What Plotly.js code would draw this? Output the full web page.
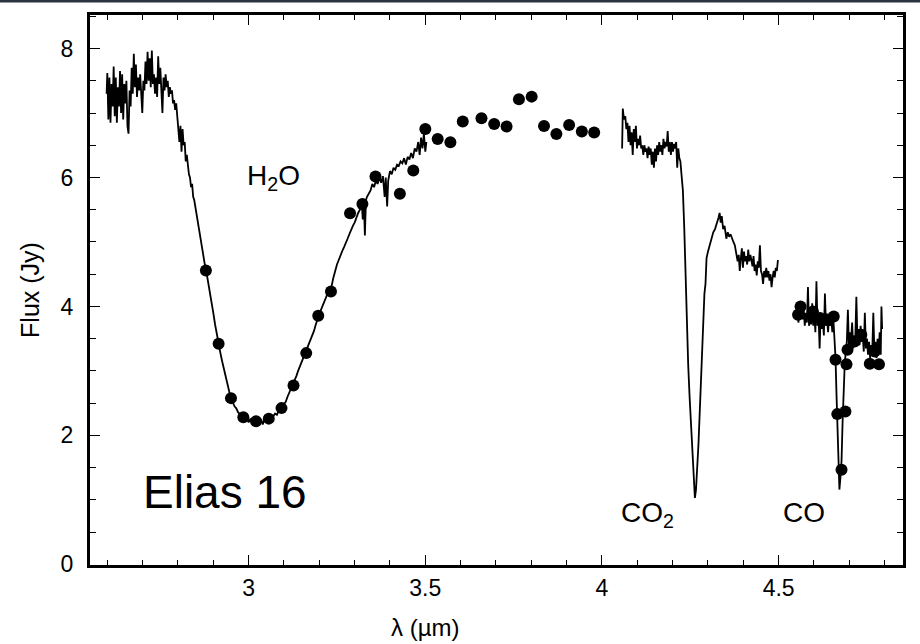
<!DOCTYPE html>
<html>
<head>
<meta charset="utf-8">
<script src="https://cdn.plot.ly/plotly-3.0.1.min.js"></script>
<style>html,body{margin:0;padding:0;background:#fff;}#chart{width:920px;height:644px;}</style>
</head>
<body>
<div id="chart"></div>
<script>
// Spectrum segment 1 (H2O band)
const lam1 = [2.598,2.600,2.603,2.606,2.609,2.612,2.615,2.618,2.621,2.624,2.627,2.630,2.633,2.636,2.639,2.642,2.645,2.648,2.651,2.654,2.657,2.660,2.663,2.666,2.669,2.672,2.675,2.678,2.681,2.684,2.687,2.690,2.693,2.696,2.699,2.702,2.705,2.708,2.711,2.714,2.717,2.720,2.723,2.726,2.729,2.732,2.735,2.738,2.741,2.744,2.747,2.750,2.753,2.756,2.759,2.762,2.765,2.768,2.771,2.774,2.777,2.780,2.783,2.786,2.789,2.792,2.795,2.798,2.801,2.804,2.807,2.810,2.813,2.816,2.819,2.822,2.825,2.828,2.831,2.834,2.837,2.840,2.843,2.846,2.849,2.852,2.856,2.860,2.864,2.868,2.872,2.876,2.880,2.885,2.890,2.895,2.900,2.905,2.910,2.915,2.920,2.925,2.930,2.935,2.940,2.945,2.950,2.955,2.960,2.965,2.970,2.975,2.980,2.985,2.990,2.995,3.000,3.005,3.010,3.015,3.020,3.025,3.030,3.035,3.040,3.045,3.050,3.055,3.060,3.065,3.070,3.075,3.080,3.085,3.090,3.095,3.100,3.105,3.110,3.115,3.120,3.125,3.130,3.135,3.140,3.145,3.150,3.155,3.160,3.165,3.170,3.175,3.180,3.185,3.190,3.195,3.200,3.205,3.210,3.215,3.220,3.225,3.230,3.235,3.240,3.245,3.250,3.255,3.260,3.265,3.270,3.275,3.280,3.285,3.290,3.295,3.300,3.305,3.310,3.315,3.320,3.323,3.326,3.329,3.332,3.335,3.340,3.345,3.350,3.355,3.360,3.365,3.370,3.375,3.380,3.385,3.388,3.392,3.395,3.400,3.405,3.410,3.415,3.420,3.425,3.430,3.435,3.440,3.445,3.450,3.455,3.460,3.465,3.470,3.475,3.480,3.484,3.488,3.492,3.496,3.500,3.503];
const flux1 = [7.30,7.62,6.90,7.55,6.85,7.45,7.10,7.72,6.95,7.55,6.85,7.40,7.10,7.65,7.00,7.60,6.90,7.45,7.15,7.50,6.80,6.68,7.35,7.10,7.70,7.30,7.92,7.40,7.75,7.25,7.55,7.35,7.60,7.20,7.00,7.50,7.35,7.80,7.45,7.95,7.50,7.85,7.40,7.97,7.45,7.60,7.30,7.55,7.25,7.88,7.45,7.70,7.35,7.00,7.55,7.35,7.60,7.40,7.50,7.25,7.40,7.30,7.35,7.15,7.20,7.05,7.15,6.95,6.80,6.55,6.80,6.40,6.75,6.50,6.55,6.25,6.35,6.15,6.05,6.00,5.85,5.90,5.70,5.65,5.55,5.40,5.30,5.15,5.00,4.90,4.78,4.65,4.55,4.40,4.22,4.05,3.90,3.72,3.55,3.42,3.28,3.15,3.02,2.90,2.80,2.68,2.58,2.52,2.45,2.42,2.36,2.33,2.28,2.30,2.24,2.27,2.20,2.26,2.18,2.24,2.15,2.28,2.20,2.25,2.17,2.26,2.22,2.30,2.24,2.28,2.30,2.34,2.32,2.38,2.40,2.45,2.48,2.52,2.60,2.66,2.72,2.78,2.85,2.92,3.00,3.07,3.12,3.20,3.26,3.32,3.40,3.48,3.56,3.62,3.72,3.82,3.88,3.95,4.02,4.10,4.18,4.22,4.25,4.32,4.45,4.56,4.65,4.72,4.80,4.86,4.92,5.00,5.05,5.12,5.20,5.25,5.30,5.38,5.45,5.50,5.60,5.35,5.62,5.10,5.65,5.70,5.75,5.80,5.90,5.85,5.95,5.90,6.00,5.92,6.02,5.70,6.00,5.55,5.95,6.10,6.05,6.15,6.12,6.20,6.18,6.25,6.22,6.30,6.20,6.32,6.28,6.38,6.30,6.45,6.40,6.55,6.35,6.62,6.45,6.68,6.40,6.55];

// Spectrum segment 2 (CO2 band)
const lam2 = [4.057,4.059,4.062,4.066,4.069,4.072,4.075,4.078,4.081,4.084,4.087,4.090,4.093,4.096,4.099,4.102,4.105,4.108,4.111,4.114,4.117,4.120,4.123,4.126,4.129,4.132,4.135,4.138,4.141,4.144,4.147,4.150,4.153,4.156,4.159,4.162,4.165,4.168,4.171,4.174,4.177,4.180,4.183,4.186,4.189,4.192,4.195,4.198,4.201,4.204,4.207,4.210,4.213,4.216,4.219,4.222,4.225,4.229,4.233,4.237,4.240,4.244,4.248,4.253,4.258,4.263,4.266,4.269,4.273,4.277,4.281,4.286,4.290,4.293,4.296,4.300,4.305,4.310,4.315,4.320,4.325,4.330,4.333,4.336,4.339,4.343,4.347,4.352,4.356,4.360,4.364,4.368,4.372,4.376,4.380,4.384,4.387,4.390,4.393,4.396,4.399,4.402,4.405,4.408,4.411,4.414,4.417,4.420,4.423,4.426,4.429,4.432,4.435,4.438,4.441,4.444,4.447,4.450,4.453,4.456,4.459,4.462,4.465,4.468,4.471,4.474,4.477,4.480,4.483,4.486,4.489,4.492,4.495,4.498];
const flux2 = [6.45,7.07,6.90,6.95,6.75,6.85,6.55,6.80,6.50,6.70,6.35,6.75,6.55,6.80,6.45,6.60,6.50,6.65,6.45,6.50,6.35,6.50,6.40,6.45,6.30,6.48,6.35,6.45,6.20,6.40,6.15,6.45,6.25,6.50,6.35,6.55,6.40,6.50,6.35,6.60,6.45,6.55,6.48,6.72,6.40,6.55,6.35,6.55,6.40,6.52,6.45,6.55,6.15,6.45,6.30,6.25,6.05,5.80,5.20,4.40,3.75,3.10,2.60,2.05,1.45,1.03,1.15,1.38,1.85,2.40,3.00,3.65,4.20,4.35,4.75,4.85,4.95,5.05,5.15,5.20,5.28,5.38,5.45,5.30,5.40,5.20,5.25,5.05,5.15,5.08,5.12,5.05,5.00,4.95,4.85,4.70,4.80,4.55,4.75,4.90,4.60,4.85,4.70,4.78,4.65,4.88,4.70,4.80,4.72,4.62,4.78,4.55,4.65,4.48,4.70,4.60,4.95,4.55,4.50,4.35,4.55,4.45,4.60,4.45,4.55,4.40,4.50,4.30,4.45,4.55,4.45,4.60,4.55,4.72];

// Spectrum segment 3 (CO band)
const lam3 = [4.550,4.553,4.556,4.559,4.562,4.565,4.568,4.571,4.574,4.577,4.580,4.583,4.586,4.589,4.592,4.595,4.598,4.601,4.604,4.607,4.610,4.613,4.616,4.619,4.622,4.625,4.628,4.631,4.634,4.637,4.640,4.643,4.646,4.649,4.652,4.655,4.658,4.661,4.664,4.667,4.670,4.672,4.675,4.678,4.681,4.684,4.687,4.690,4.693,4.696,4.699,4.702,4.705,4.708,4.711,4.714,4.717,4.720,4.723,4.726,4.729,4.732,4.735,4.738,4.741,4.744,4.747,4.750,4.753,4.756,4.759,4.762,4.765,4.768,4.771,4.774,4.777,4.780,4.783,4.786,4.789,4.791,4.793];
const flux3 = [3.80,4.00,3.75,3.95,3.85,4.02,3.80,3.95,3.70,3.90,3.75,4.30,3.70,3.85,3.72,4.05,3.70,3.90,3.60,4.39,3.70,3.85,3.35,3.90,3.65,3.80,3.55,4.20,3.70,3.80,3.60,3.85,3.70,3.80,3.60,3.80,3.50,3.20,2.60,1.90,1.30,1.16,1.35,1.60,2.20,2.75,3.10,3.30,3.45,3.95,3.40,3.60,3.45,3.75,3.35,3.55,3.50,4.15,3.50,3.65,3.40,3.70,3.45,3.55,3.30,3.90,3.35,3.50,3.25,3.45,3.20,3.40,3.30,3.90,3.30,3.45,3.20,3.50,3.30,3.60,3.25,4.00,3.65];

// Photometric points (filled circles)
const dotLam = [2.879,2.915,2.950,2.985,3.021,3.057,3.093,3.127,3.163,3.197,3.233,3.287,3.322,3.359,3.428,3.466,3.500,3.535,3.571,3.606,3.659,3.695,3.730,3.765,3.801,3.836,3.871,3.907,3.943,3.978,4.555,4.562,4.597,4.617,4.635,4.656,4.661,4.666,4.678,4.689,4.692,4.695,4.715,4.734,4.758,4.772,4.784];
const dotFlux = [4.556,3.42,2.578,2.28,2.22,2.26,2.423,2.774,3.276,3.854,4.23,5.446,5.59,6.014,5.746,6.107,6.753,6.598,6.547,6.867,6.919,6.831,6.79,7.214,7.254,6.80,6.676,6.815,6.712,6.696,3.87,3.999,3.92,3.82,3.80,3.843,3.172,2.33,1.467,2.37,3.105,3.327,3.456,3.56,3.11,3.30,3.105];

// Labels
const xTickVals = [3, 3.5, 4, 4.5];
const xTickText = ['3', '3.5', '4', '4.5'];
const yTickVals = [0, 2, 4, 6, 8];
const yTickText = ['0', '2', '4', '6', '8'];
const bandLabels = ['H<sub>2</sub>O', 'CO<sub>2</sub>', 'CO'];
const bandLam = [3.07, 4.130, 4.573];
const bandFlux = [6.0, 0.78, 0.80];
const sourceName = 'Elias 16';
const xTitle = 'λ (µm)';
const yTitle = 'Flux (Jy)';

const FONT = '"Liberation Sans", Arial, Helvetica, sans-serif';
const lineStyle = {color: '#000', width: 1.8};

const traces = [
  {x: lam1, y: flux1, type: 'scatter', mode: 'lines', line: lineStyle, hoverinfo: 'skip'},
  {x: lam2, y: flux2, type: 'scatter', mode: 'lines', line: lineStyle, hoverinfo: 'skip'},
  {x: lam3, y: flux3, type: 'scatter', mode: 'lines', line: lineStyle, hoverinfo: 'skip'},
  {x: dotLam, y: dotFlux, type: 'scatter', mode: 'markers', marker: {color: '#000', size: 12}, hoverinfo: 'skip'}
];

const annotations = bandLabels.map((t, i) => ({
  x: bandLam[i], y: bandFlux[i], xref: 'x', yref: 'y', text: t, showarrow: false,
  font: {family: FONT, size: 28, color: '#000'}, xanchor: 'center', yanchor: 'middle'
}));
annotations.push({x: 2.933, y: 1.12, xref: 'x', yref: 'y', text: sourceName, showarrow: false,
  font: {family: FONT, size: 46, color: '#000'}, xanchor: 'center', yanchor: 'middle'});
annotations.push({x: 0.412, y: -0.1145, xref: 'paper', yref: 'paper', text: xTitle, showarrow: false,
  font: {family: FONT, size: 24, color: '#000'}, xanchor: 'center', yanchor: 'middle'});

const layout = {
  width: 920, height: 644,
  margin: {l: 90, r: 17, t: 15, b: 79},
  paper_bgcolor: '#fff', plot_bgcolor: '#fff',
  showlegend: false,
  font: {family: FONT, color: '#000'},
  xaxis: {
    range: [2.551, 4.852], tickmode: 'array', tickvals: xTickVals, ticktext: xTickText,
    ticks: 'inside', ticklen: 10, tickwidth: 1, tickcolor: '#000',
    minor: {dtick: 0.1, tick0: 0, ticks: 'inside', ticklen: 5, tickwidth: 1, tickcolor: '#000', showgrid: false},
    showline: true, linewidth: 3, linecolor: '#000', mirror: 'ticks',
    showgrid: false, zeroline: false,
    tickfont: {family: FONT, size: 23, color: '#000'}, ticklabelstandoff: 0
  },
  yaxis: {
    range: [-0.01, 8.52], tickmode: 'array', tickvals: yTickVals, ticktext: yTickText,
    ticks: 'inside', ticklen: 10, tickwidth: 1, tickcolor: '#000',
    minor: {dtick: 0.5, tick0: 0, ticks: 'inside', ticklen: 6, tickwidth: 1, tickcolor: '#000', showgrid: false},
    showline: true, linewidth: 3, linecolor: '#000', mirror: 'ticks',
    showgrid: false, zeroline: false,
    tickfont: {family: FONT, size: 23, color: '#000'}, ticklabelstandoff: 9,
    title: {text: yTitle, font: {family: FONT, size: 25, color: '#000'}, standoff: 14}
  },
  annotations: annotations,
  shapes: [{type: 'line', xref: 'paper', yref: 'paper', x0: -0.2, x1: 1.1, y0: 1 + 14/550, y1: 1 + 14/550,
    line: {color: '#2b3540', width: 3}}]
};

Plotly.newPlot('chart', traces, layout, {staticPlot: true, displayModeBar: false});
</script>
</body>
</html>
